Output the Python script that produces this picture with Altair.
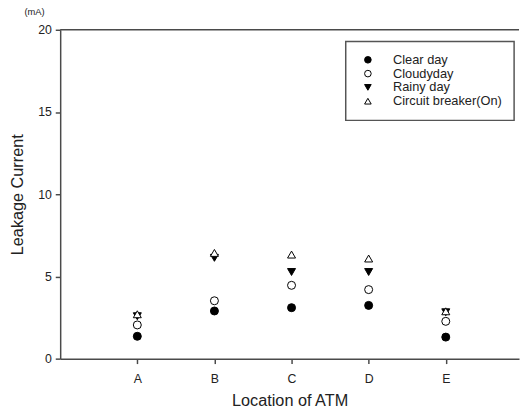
import altair as alt
import pandas as pd

locations = ["A", "B", "C", "D", "E"]
series = ["Clear day", "Cloudyday", "Rainy day", "Circuit breaker(On)"]
clear_day = [1.36, 2.90, 3.10, 3.24, 1.31]
cloudy_day = [2.05, 3.52, 4.46, 4.20, 2.27]
rainy_day = [2.58, 6.13, 5.27, 5.27, 2.82]
breaker_on = [2.70, 6.43, 6.33, 6.09, 2.88]

shapes = ["circle", "circle", "triangle-down", "triangle-up"]
fills = ["black", "white", "black", "white"]
strokes = ["black", "black", "black", "black"]

rows = []
for name, vals in zip(series, [clear_day, cloudy_day, rainy_day, breaker_on]):
    for i, (loc, v) in enumerate(zip(locations, vals)):
        rows.append({"loc": loc, "idx": i + 1, "series": name, "value": v})
df = pd.DataFrame(rows)

FONT = "Liberation Sans"
AX = "#4a4a4a"
TXT = "#222222"

label_expr = "['', " + ", ".join("'" + l + "'" for l in locations) + "][datum.value]"

leg = alt.Legend(title=None, orient="none", legendX=290, legendY=12,
                 symbolStrokeColor="black", symbolStrokeWidth=1)

points = alt.Chart(df).mark_point(
    filled=True, size=66, strokeWidth=1, opacity=1
).encode(
    x=alt.X("idx:Q",
            scale=alt.Scale(domain=[0, 5.95], nice=False, zero=False),
            axis=alt.Axis(values=[1, 2, 3, 4, 5], labelExpr=label_expr,
                          title="Location of ATM", grid=False,
                          tickSize=5, labelPadding=9, titlePadding=8,
                          labelFontSize=12.5, titleFontSize=16.5)),
    y=alt.Y("value:Q",
            scale=alt.Scale(domain=[0, 20], nice=False),
            axis=alt.Axis(values=[0, 5, 10, 15, 20], title="Leakage Current",
                          grid=False, tickSize=5, labelPadding=4,
                          titlePadding=12, labelFontSize=12.5,
                          titleFontSize=16.5)),
    shape=alt.Shape("series:N", scale=alt.Scale(domain=series, range=shapes),
                    legend=leg),
    fill=alt.Fill("series:N", scale=alt.Scale(domain=series, range=fills),
                  legend=leg),
    stroke=alt.Stroke("series:N", scale=alt.Scale(domain=series, range=strokes),
                      legend=leg),
)

top_line = alt.Chart(pd.DataFrame({"v": [20]})).mark_rule(
    color=AX, strokeWidth=1.5
).encode(y=alt.Y("v:Q"))

unit = alt.Chart(pd.DataFrame({"t": ["(mA)"]})).mark_text(
    font=FONT, fontSize=9.5, color=TXT, align="center", baseline="middle"
).encode(text="t:N", x=alt.value(-26), y=alt.value(-18))

chart = alt.layer(points, top_line, unit).properties(
    width=466, height=334,
    autosize=alt.AutoSizeParams(type="none"),
    padding={"left": 53, "top": 19, "right": 2, "bottom": 48},
).configure_view(stroke=None).configure_axis(
    domainColor=AX, domainWidth=1.5, tickColor=AX, tickWidth=1.5,
    labelColor=TXT, titleColor=TXT, labelFont=FONT, titleFont=FONT,
    titleFontWeight="normal"
).configure_legend(
    labelFont=FONT, labelFontSize=13, labelColor=TXT,
    strokeColor="#555555", strokeWidth=1.5, fillColor="white",
    padding=12, rowPadding=0, symbolSize=45, symbolStrokeColor="black",
    symbolStrokeWidth=1, labelOffset=19, symbolOffset=4, cornerRadius=0
)

chart.save("out.html", embed_options={"renderer": "svg", "actions": False})
